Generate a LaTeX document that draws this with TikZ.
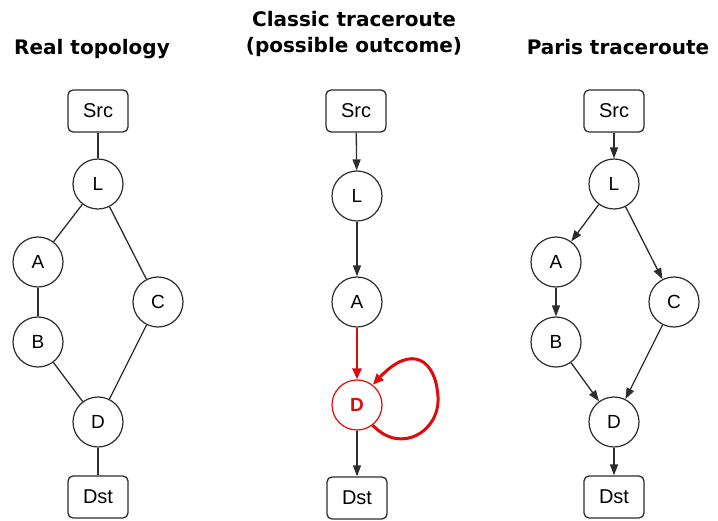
\documentclass[tikz,border=0pt]{standalone}
\usepackage{fontspec}
\setmainfont{Liberation Sans}
\newfontfamily\titlefont{DejaVu Sans}
\usetikzlibrary{arrows.meta}

\definecolor{linegray}{RGB}{45,45,45}
\definecolor{tracered}{RGB}{225,10,10}

\begin{document}
\begin{tikzpicture}[x=1pt,y=-1pt,
  hop/.style={circle,draw=linegray,line width=1.2pt,minimum size=50pt,inner sep=0pt,
    font=\fontsize{19}{19}\selectfont},
  endbox/.style={rectangle,rounded corners=5pt,draw=linegray,line width=1.3pt,
    minimum width=60pt,minimum height=42pt,inner sep=0pt,font=\fontsize{20}{20}\selectfont},
  link/.style={draw=linegray,line width=1.3pt},
  hoparrow/.style={link,-{Triangle[length=11pt,width=8pt]}},
  badlink/.style={draw=tracered,line width=2.6pt,-{Triangle[length=11pt,width=9pt]}},
  heading/.style={font=\titlefont\bfseries\fontsize{20}{20}\selectfont,anchor=base,inner sep=0pt}]

% canvas
\fill[white] (0,0) rectangle (718,521);
\useasboundingbox (0,0) rectangle (718,521);

% ---------- Real topology ----------
\node[heading] (tReal) at (92,55) {Real topology};
\node[endbox] (rSrc) at (98,111) {Src};
\node[hop] (rL) at (98,184) {L};
\node[hop] (rA) at (38,262) {A};
\node[hop] (rB) at (38,342) {B};
\node[hop] (rC) at (158,302) {C};
\node[hop] (rD) at (98,422) {D};
\node[endbox] (rDst) at (98,497) {Dst};

\draw[link] (rSrc) -- (rL);
\draw[link] (rL) -- (rA);
\draw[link] (rL) -- (rC);
\draw[link] (rA) -- (rB);
\draw[link] (rB) -- (rD);
\draw[link] (rC) -- (rD);
\draw[link] (rD) -- (rDst);

% ---------- Classic traceroute ----------
\node[heading] (tClassicA) at (354,27) {Classic traceroute};
\node[heading] (tClassicB) at (354,53) {(possible outcome)};
\node[endbox] (cSrc) at (356,111) {Src};
\node[hop] (cL) at (357,196) {L};
\node[hop] (cA) at (357,302) {A};
\node[hop,draw=tracered,text=tracered,font=\fontsize{19}{19}\selectfont\bfseries] (cD) at (357,405) {D};
\node[endbox] (cDst) at (357,498) {Dst};

\draw[hoparrow] (cSrc) -- (cL);
\draw[hoparrow] (cL) -- (cA);
\draw[badlink] (cA) -- (cD);
\draw[badlink,line width=3pt] (cD.-52) .. controls (400,455) and (440,432) .. (438,397)
  .. controls (436,360) and (412,343) .. (cD.52);
\draw[hoparrow] (cD) -- (cDst);

% ---------- Paris traceroute ----------
\node[heading] (tParis) at (618,55) {Paris traceroute};
\node[endbox] (pSrc) at (614,111) {Src};
\node[hop] (pL) at (614,184) {L};
\node[hop] (pA) at (556,262) {A};
\node[hop] (pB) at (556,342) {B};
\node[hop] (pC) at (674,302) {C};
\node[hop] (pD) at (614,422) {D};
\node[endbox] (pDst) at (614,497) {Dst};

\draw[hoparrow] (pSrc) -- (pL);
\draw[hoparrow] (pL) -- (pA);
\draw[hoparrow] (pL) -- (pC);
\draw[hoparrow] (pA) -- (pB);
\draw[hoparrow] (pB) -- (pD);
\draw[hoparrow] (pC) -- (pD);
\draw[hoparrow] (pD) -- (pDst);
\end{tikzpicture}
\end{document}
